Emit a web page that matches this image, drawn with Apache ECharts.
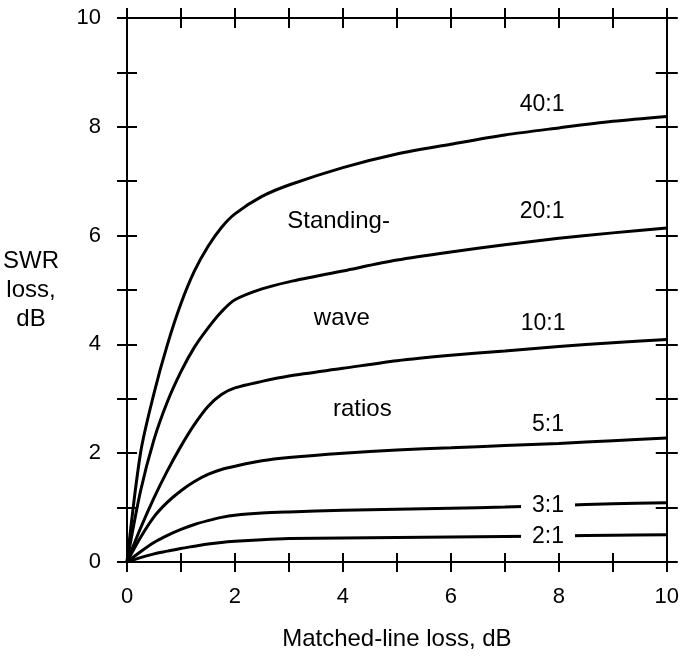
<!DOCTYPE html>
<html>
<head>
<meta charset="utf-8">
<script src="https://cdn.jsdelivr.net/npm/echarts@6/dist/echarts.min.js"></script>
<style>
  html, body { margin: 0; padding: 0; background: #fff; }
  #chart { width: 682px; height: 656px; }
</style>
</head>
<body>
<div id="chart"></div>
<script>
// matched-line loss, dB
const lossX = [0, 0.25, 0.5, 0.75, 1, 1.25, 1.5, 1.75, 2, 2.5, 3, 4, 5, 6, 7, 8, 9, 10];

// SWR loss, dB, one array per standing-wave ratio
const swr40 = [0, 2.0, 3.1, 4.0, 4.75, 5.35, 5.8, 6.15, 6.4, 6.72, 6.93, 7.25, 7.5, 7.68, 7.85, 7.98, 8.1, 8.19];
const swr20 = [0, 1.3, 2.25, 2.95, 3.5, 3.95, 4.3, 4.6, 4.82, 5.02, 5.15, 5.35, 5.55, 5.7, 5.83, 5.95, 6.05, 6.14];
const swr10 = [0, 0.62, 1.18, 1.68, 2.13, 2.53, 2.86, 3.08, 3.2, 3.32, 3.42, 3.56, 3.7, 3.8, 3.88, 3.96, 4.03, 4.09];
const swr5 = [0, 0.45, 0.83, 1.1, 1.31, 1.48, 1.61, 1.7, 1.76, 1.86, 1.92, 2.0, 2.06, 2.1, 2.14, 2.18, 2.23, 2.28];
const swr3 = [0, 0.19, 0.36, 0.49, 0.6, 0.69, 0.76, 0.82, 0.86, 0.9, 0.92, 0.95, 0.97, 0.99, 1.01, 1.04, 1.07, 1.09];
const swr2 = [0, 0.08, 0.15, 0.2, 0.25, 0.29, 0.33, 0.36, 0.38, 0.41, 0.43, 0.44, 0.45, 0.46, 0.47, 0.48, 0.49, 0.5];

// curve labels, placed in data units
const ratioNames = ["40:1", "20:1", "10:1", "5:1", "3:1", "2:1"];
const ratioLabelX = [7.69, 7.69, 7.71, 7.8, 7.8, 7.8];
const ratioLabelY = [8.41, 6.44, 4.38, 2.53, 1.04, 0.47];

const wordNames = ["Standing-", "wave", "ratios"];
const wordX = [3.92, 3.98, 4.36];
const wordY = [6.26, 4.47, 2.8];

const font = "Liberation Sans, Arial, sans-serif";
const black = "#000";

const pairs = (ys) => lossX.map((x, i) => [x, ys[i]]);
const curves = [swr40, swr20, swr10, swr5, swr3, swr2];

function ticks(inside, length) {
  return { show: true, inside: inside, length: length, lineStyle: { color: black, width: 2 } };
}

function frameAxis(position, inside, length) {
  return {
    type: "value",
    position: position,
    min: 0,
    max: 10,
    interval: 1,
    splitLine: { show: false },
    axisLabel: { show: false },
    axisLine: { show: true, onZero: false, lineStyle: { color: black, width: 2 } },
    axisTick: ticks(inside, length)
  };
}

const evenOnly = (v) => (v % 2 === 0 ? String(v) : "");

const xMain = frameAxis("bottom", false, 10);
xMain.axisLabel = { show: true, formatter: evenOnly, margin: 24, color: black, fontSize: 22, fontFamily: font };
xMain.name = "Matched-line loss, dB";
xMain.nameLocation = "middle";
xMain.nameGap = 65;
xMain.nameTextStyle = { color: black, fontSize: 24, fontFamily: font };

const yMain = frameAxis("left", false, 10);
yMain.axisLabel = { show: true, formatter: evenOnly, margin: 26, color: black, fontSize: 22, fontFamily: font };
yMain.name = "SWR\nloss,\ndB";
yMain.nameLocation = "middle";
yMain.nameRotate = 0;
yMain.nameGap = 96;
yMain.nameTextStyle = {
  color: black, fontSize: 24, fontFamily: font,
  align: "center", verticalAlign: "middle", lineHeight: 29
};

const xAxes = [xMain, frameAxis("bottom", true, 9), frameAxis("top", false, 10), frameAxis("top", true, 10)];
const yAxes = [yMain, frameAxis("left", true, 10), frameAxis("right", false, 11), frameAxis("right", true, 11)];

// empty series so every frame axis belongs to a drawn coordinate system
const frameSeries = [1, 2, 3].map((k) => ({
  type: "line",
  xAxisIndex: k,
  yAxisIndex: k,
  data: [],
  silent: true
}));

const labelBase = {
  show: true,
  position: "inside",
  formatter: (p) => p.value[2],
  color: black,
  opacity: 1,
  fontFamily: font
};

const chart = echarts.init(document.getElementById("chart"));

chart.setOption({
  animation: false,
  backgroundColor: "#fff",
  grid: { left: 127, right: 11, top: 18, bottom: 93, containLabel: false },
  xAxis: xAxes,
  yAxis: yAxes,
  series: curves.map((ys, i) => ({
    name: ratioNames[i],
    type: "line",
    xAxisIndex: 0,
    yAxisIndex: 0,
    data: pairs(ys),
    smooth: 0.3,
    showSymbol: false,
    lineStyle: { color: black, width: 3 },
    z: 2
  })).concat(frameSeries, [
    {
      type: "scatter",
      xAxisIndex: 0,
      yAxisIndex: 0,
      symbolSize: 0,
      itemStyle: { opacity: 1 },
      z: 5,
      data: ratioNames.map((n, i) => [ratioLabelX[i], ratioLabelY[i], n]),
      label: Object.assign({}, labelBase, { fontSize: 23, backgroundColor: "#fff", padding: [0, 11] })
    },
    {
      type: "scatter",
      xAxisIndex: 0,
      yAxisIndex: 0,
      symbolSize: 0,
      itemStyle: { opacity: 1 },
      z: 5,
      data: wordNames.map((n, i) => [wordX[i], wordY[i], n]),
      label: Object.assign({}, labelBase, { fontSize: 24 })
    }
  ])
});
</script>
</body>
</html>
